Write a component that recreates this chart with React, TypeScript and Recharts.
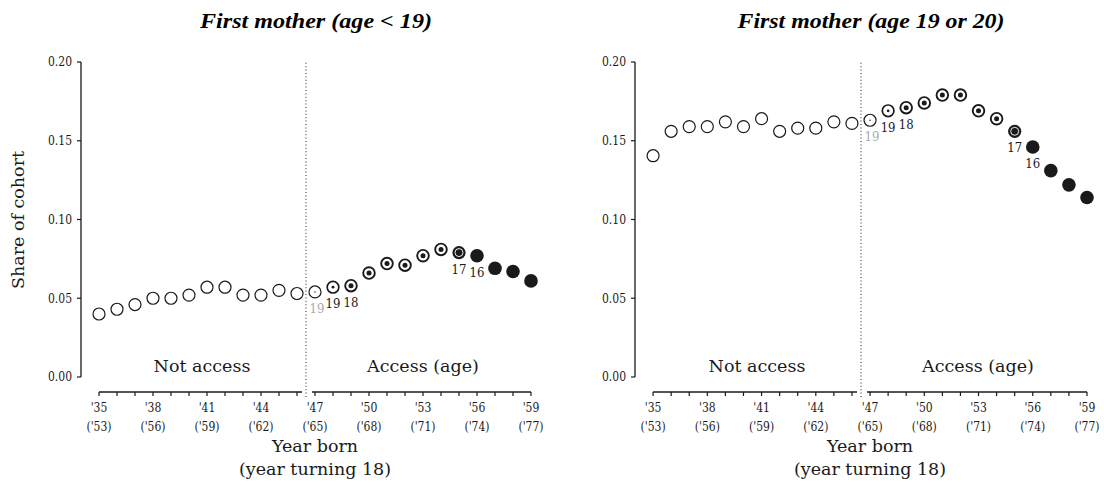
import React from 'react';
import { ScatterChart, Scatter, XAxis, YAxis, ReferenceLine } from 'recharts';

// cohorts, by year of birth
const years = [
  1935, 1936, 1937, 1938, 1939, 1940, 1941, 1942, 1943, 1944, 1945, 1946,
  1947, 1948, 1949, 1950, 1951, 1952, 1953, 1954, 1955, 1956, 1957, 1958, 1959,
];

// share of cohort who became a first mother before 19
const shareUnder19 = [
  0.040, 0.043, 0.046, 0.050, 0.050, 0.052, 0.057, 0.057, 0.052, 0.052, 0.055, 0.053,
  0.054, 0.057, 0.058, 0.066, 0.072, 0.071, 0.077, 0.081, 0.079, 0.077, 0.069, 0.067, 0.061,
];

// share of cohort who became a first mother at 19 or 20
const share19or20 = [
  0.1405, 0.156, 0.159, 0.159, 0.162, 0.159, 0.164, 0.156, 0.158, 0.158, 0.162, 0.161,
  0.163, 0.169, 0.171, 0.174, 0.179, 0.179, 0.169, 0.164, 0.156, 0.146, 0.131, 0.122, 0.114,
];

// age of legal access to the pill, marked where it changed
const accessLabels = [
  { year: 1947, text: '19', muted: true },
  { year: 1948, text: '19', muted: false },
  { year: 1949, text: '18', muted: false },
  { year: 1955, text: '17', muted: false },
  { year: 1956, text: '16', muted: false },
];

const yTicks = [0, 0.05, 0.1, 0.15, 0.2];
const accessStart = 1946.5;

const FONT = '"DejaVu Serif", serif';
const SMALL_FONT = '"DejaVu Serif Condensed", "DejaVu Serif", serif';
const INK = '#1a1a1a';
const Y_LOW = -0.009524; // axis sits a little below zero

const CohortDot = (props: any) => {
  const { cx, cy, payload } = props;
  if (cx == null || cy == null) return null;
  const yr = payload.year;
  const lab = accessLabels.find((l) => l.year === yr);
  let mark;
  if (yr < 1947) {
    mark = <circle cx={cx} cy={cy} r={6} fill="#fff" stroke={INK} strokeWidth={1.2} />;
  } else if (yr === 1947) {
    mark = (
      <g>
        <circle cx={cx} cy={cy} r={6} fill="#fff" stroke={INK} strokeWidth={1.2} />
        <circle cx={cx} cy={cy} r={0.7} fill={INK} />
      </g>
    );
  } else if (yr === 1948) {
    mark = (
      <g>
        <circle cx={cx} cy={cy} r={5.8} fill="#fff" stroke={INK} strokeWidth={1.7} />
        <circle cx={cx} cy={cy} r={1.4} fill={INK} />
      </g>
    );
  } else if (yr < 1955) {
    mark = (
      <g>
        <circle cx={cx} cy={cy} r={5.8} fill="#fff" stroke={INK} strokeWidth={1.9} />
        <circle cx={cx} cy={cy} r={2.5} fill={INK} />
      </g>
    );
  } else if (yr === 1955) {
    mark = (
      <g>
        <circle cx={cx} cy={cy} r={6.6} fill={INK} />
        <circle cx={cx} cy={cy} r={4} fill="none" stroke="#fff" strokeWidth={0.9} />
      </g>
    );
  } else {
    mark = <circle cx={cx} cy={cy} r={6.8} fill={INK} />;
  }
  return (
    <g>
      {mark}
      {lab && (
        <text
          x={cx + (lab.muted ? 2 : 0)}
          y={cy + 21}
          textAnchor="middle"
          fontFamily={SMALL_FONT}
          fontSize={13}
          fill={lab.muted ? '#aaaaaa' : INK}
        >
          {lab.text}
        </text>
      )}
    </g>
  );
};

const YearTick = (props: any) => {
  const { x, y, payload } = props;
  const yr = payload.value;
  if ((yr - 1935) % 3 !== 0) return null;
  const born = String(yr).slice(2);
  const turning = String(yr + 18).slice(2);
  return (
    <g>
      <text x={x} y={y + 16} textAnchor="middle" fontFamily={SMALL_FONT} fontSize={12} fill={INK}>
        {`'${born}`}
      </text>
      <text x={x} y={y + 35} textAnchor="middle" fontFamily={SMALL_FONT} fontSize={12} fill={INK}>
        {`('${turning})`}
      </text>
    </g>
  );
};

interface PanelProps {
  values: number[];
  left: number;
  margin: { top: number; right: number; bottom: number; left: number };
}

const Panel: React.FC<PanelProps> = ({ values, left, margin }) => {
  const data = years.map((year, i) => ({ year, share: values[i] }));
  return (
    <div style={{ position: 'absolute', left, top: 0 }}>
      <ScatterChart width={552} height={495} margin={margin}>
        <XAxis
          dataKey="year"
          type="number"
          domain={[1934, 1959]}
          ticks={years}
          interval={0}
          height={50}
          axisLine={false}
          tickLine={{ stroke: INK, strokeWidth: 1.2 }}
          tickSize={4}
          tickMargin={0}
          tick={<YearTick />}
        />
        <YAxis
          dataKey="share"
          type="number"
          domain={[Y_LOW, 0.2]}
          ticks={yTicks}
          width={41}
          axisLine={false}
          tickLine={{ stroke: INK, strokeWidth: 1.2 }}
          tickSize={4}
          tickMargin={5}
          tickFormatter={(v: number) => v.toFixed(2)}
          tick={{ fontFamily: SMALL_FONT, fontSize: 12, fill: INK }}
        />
        <ReferenceLine
          segment={[{ x: 1934, y: 0 }, { x: 1934, y: 0.2 }]}
          stroke={INK}
          strokeWidth={1.3}
          ifOverflow="visible"
        />
        <ReferenceLine
          segment={[{ x: 1935, y: Y_LOW }, { x: 1946.28, y: Y_LOW }]}
          stroke={INK}
          strokeWidth={1.3}
          ifOverflow="visible"
        />
        <ReferenceLine
          segment={[{ x: 1946.83, y: Y_LOW }, { x: 1959, y: Y_LOW }]}
          stroke={INK}
          strokeWidth={1.3}
          ifOverflow="visible"
        />
        <ReferenceLine
          segment={[{ x: accessStart, y: -0.0127 }, { x: accessStart, y: 0.2 }]}
          stroke="#444"
          strokeWidth={1.2}
          strokeDasharray="1 2.4"
          ifOverflow="visible"
        />
        <Scatter data={data} shape={<CohortDot />} isAnimationActive={false} />
      </ScatterChart>
    </div>
  );
};

const textStyle = { fontFamily: FONT, fill: INK };

export default function App() {
  return (
    <div style={{ position: 'absolute', left: 0, top: 0, width: 1104, height: 495, background: '#fff' }}>
      <Panel values={shareUnder19} left={0} margin={{ top: 62, right: 21, bottom: 53, left: 40 }} />
      <Panel values={share19or20} left={552} margin={{ top: 62, right: 17, bottom: 53, left: 42 }} />
      <svg width={1104} height={495} style={{ position: 'absolute', left: 0, top: 0, pointerEvents: 'none' }}>
        <text x={316} y={28} textAnchor="middle" fontFamily='"Liberation Serif", serif' fontWeight="bold"
          fontStyle="italic" fontSize={22} textLength={232} lengthAdjust="spacingAndGlyphs" fill="#000">
          First mother (age &lt; 19)
        </text>
        <text x={871} y={28} textAnchor="middle" fontFamily='"Liberation Serif", serif' fontWeight="bold"
          fontStyle="italic" fontSize={22} textLength={267} lengthAdjust="spacingAndGlyphs" fill="#000">
          First mother (age 19 or 20)
        </text>
        <text transform="translate(24,220) rotate(-90)" textAnchor="middle" fontSize={17.5} {...textStyle}>
          Share of cohort
        </text>
        <text x={202} y={372} textAnchor="middle" fontSize={17.5} {...textStyle}>Not access</text>
        <text x={423} y={372} textAnchor="middle" fontSize={17.5} {...textStyle}>Access (age)</text>
        <text x={757} y={372} textAnchor="middle" fontSize={17.5} {...textStyle}>Not access</text>
        <text x={978} y={372} textAnchor="middle" fontSize={17.5} {...textStyle}>Access (age)</text>
        <text x={315} y={452} textAnchor="middle" fontSize={17.5} {...textStyle}>Year born</text>
        <text x={315} y={475} textAnchor="middle" fontSize={17.5} {...textStyle}>(year turning 18)</text>
        <text x={870} y={452} textAnchor="middle" fontSize={17.5} {...textStyle}>Year born</text>
        <text x={870} y={475} textAnchor="middle" fontSize={17.5} {...textStyle}>(year turning 18)</text>
      </svg>
    </div>
  );
}
